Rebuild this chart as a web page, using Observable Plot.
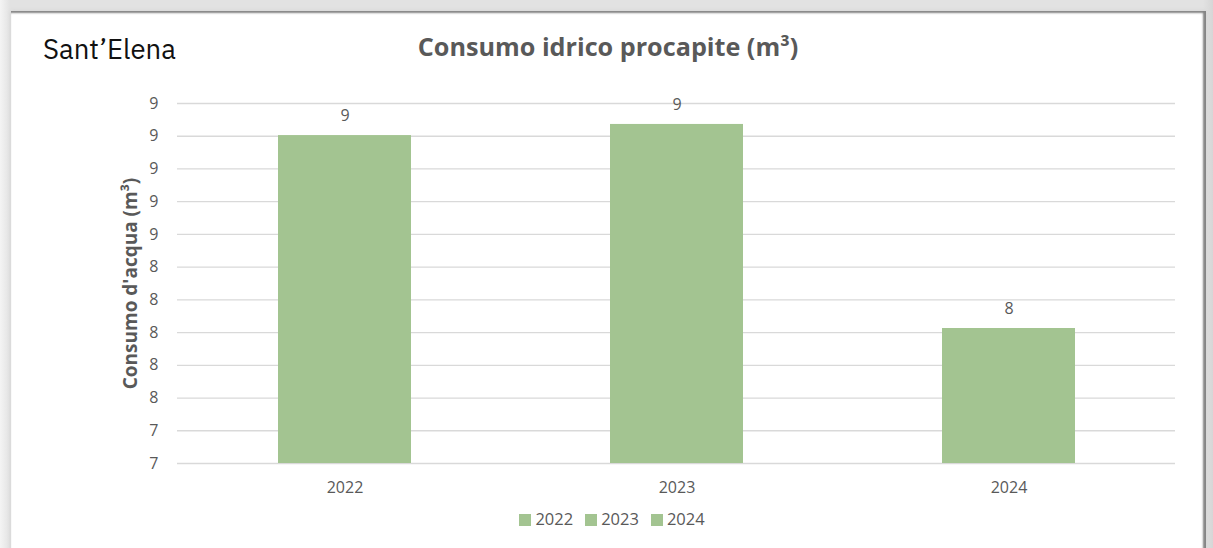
<!DOCTYPE html>
<html>
<head>
<meta charset="utf-8">
<script src="https://cdn.jsdelivr.net/npm/d3@7"></script>
<script src="https://cdn.jsdelivr.net/npm/@observablehq/plot@0.6"></script>
<style>
  html, body { margin: 0; padding: 0; background: #fff; }
  #wrap { position: relative; width: 1213px; height: 548px; overflow: hidden;
          background: linear-gradient(to right, #f4f4f4 0px, #e2e2e2 10px, #e2e2e2 1203px, #d6d6d6 1213px); }
  #panel { position: absolute; left: 11px; top: 11px; width: 1195px; height: 560px; background: #fff;
           box-shadow: inset 0 3px 2px -1px #858585, inset -4px 0 2px -1px #858585, 0 0 4px #d0d0d0; }
  #place { position: absolute; left: 43px; top: 31px; font-family: "IBM Plex Sans", Inter, "Noto Sans", sans-serif;
           font-size: 27.5px; color: #111; }
  #title { position: absolute; left: 0; width: 1216px; top: 29px; text-align: center;
           font-family: "Open Sans", "Noto Sans", sans-serif; font-weight: bold; font-size: 25.2px; color: #595959; }
  #chart { position: absolute; left: 0; top: 80px; }
  #legend { position: absolute; left: 0; width: 1224px; top: 507px; text-align: center;
            font-family: "Open Sans", "Noto Sans", sans-serif; font-size: 16.5px; color: #595959; }
  #legend span.item { display: inline-block; margin: 0 6px; }
  #legend span.sw { display: inline-block; width: 12px; height: 12px; margin-right: 4px; vertical-align: -1px; }
</style>
</head>
<body>
<div id="wrap">
  <div id="panel"></div>
  <div id="place">Sant’Elena</div>
  <div id="title">Consumo idrico procapite (m³)</div>
  <div id="chart"></div>
  <div id="legend"></div>
</div>
<script>
// Data
const years = ["2022", "2023", "2024"];
const consumo = [9.204, 9.272, 8.025];
const yTicks = [7.2, 7.4, 7.6, 7.8, 8.0, 8.2, 8.4, 8.6, 8.8, 9.0, 9.2, 9.4];
const yMin = 7.2, yMax = 9.4;
const barColor = "#a3c491";
const textColor = "#595959";

const data = years.map((y, i) => ({year: y, value: consumo[i]}));
const fmt = d3.format(".0f");

const chart = Plot.plot({
  width: 1213,
  height: 420,
  marginLeft: 177,
  marginRight: 38,
  marginTop: 23,
  marginBottom: 37,
  style: {fontFamily: "'Open Sans', 'Noto Sans', sans-serif", fontSize: "16px", color: textColor, background: "transparent"},
  x: {domain: years, paddingInner: 0.6, paddingOuter: 0.3, label: null, tickSize: 0, tickPadding: 18},
  y: {domain: [yMin, yMax], ticks: yTicks, tickFormat: fmt, tickSize: 0, tickPadding: 19, label: null},
  marks: [
    Plot.gridY(yTicks, {stroke: "#d9d9d9", strokeOpacity: 1, strokeWidth: 1.3}),
    Plot.barY(data, {x: "year", y1: () => yMin, y2: "value", fill: barColor}),
    Plot.text(data, {x: "year", y: "value", text: d => fmt(d.value), dy: -20, fill: textColor, fontSize: 16}),
    Plot.axisX({tickSize: 0, tickPadding: 18, fill: textColor, fontSize: 16}),
    Plot.axisY(yTicks, {tickSize: 0, tickPadding: 19, tickFormat: fmt, fill: textColor, fontSize: 16, label: null}),
    Plot.text(["Consumo d'acqua (m³)"], {frameAnchor: "left", textAnchor: "middle", dx: -47, rotate: -90, fontWeight: "bold", fontSize: 19, fill: textColor})
  ]
});
document.getElementById("chart").appendChild(chart);

const legend = document.getElementById("legend");
years.forEach(y => {
  const it = document.createElement("span");
  it.className = "item";
  it.innerHTML = `<span class="sw" style="background:${barColor}"></span>${y}`;
  legend.appendChild(it);
});
</script>
</body>
</html>
